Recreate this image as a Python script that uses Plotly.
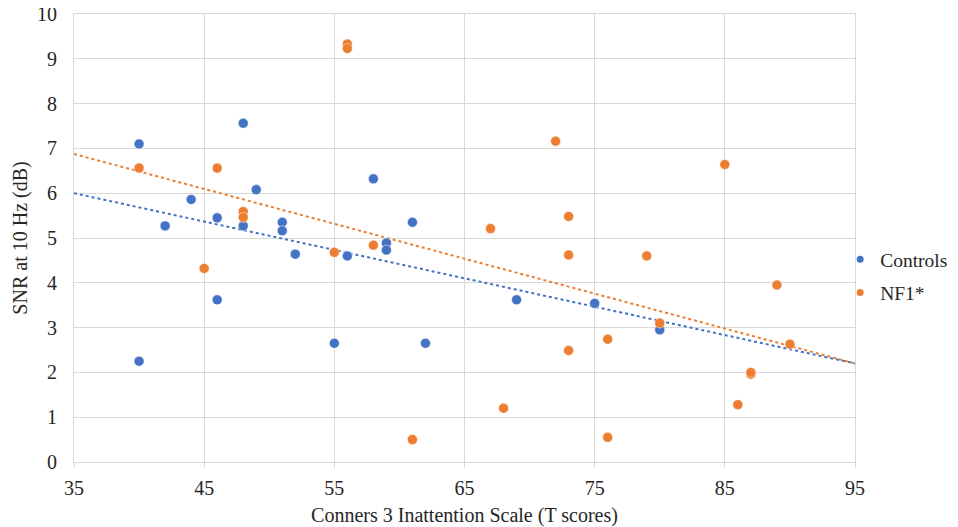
import plotly.graph_objects as go

# Controls
ctrl_x = [40, 48, 44, 42, 46, 48, 49, 51, 51, 52, 56, 58, 59, 59, 61, 40, 46, 55, 62, 69, 75, 80]
ctrl_y = [7.10, 7.56, 5.86, 5.27, 5.45, 5.27, 6.08, 5.35, 5.16, 4.64, 4.60, 6.32, 4.89, 4.73, 5.35,
          2.25, 3.62, 2.65, 2.65, 3.62, 3.54, 2.95]
# NF1
nf1_x = [56, 56, 40, 46, 48, 48, 55, 58, 45, 61, 72, 85, 73, 67, 73, 79, 89, 80, 90, 76, 73, 87, 87, 86, 68, 76]
nf1_y = [9.33, 9.23, 6.56, 6.56, 5.59, 5.46, 4.68, 4.84, 4.32, 0.50, 7.16, 6.64, 5.48, 5.21, 4.62, 4.60,
         3.95, 3.10, 2.63, 2.74, 2.49, 1.96, 2.00, 1.28, 1.20, 0.55]

# Linear trendlines at the ends of the x range
trend_x = [35, 95]
ctrl_trend_y = [6.00, 2.20]
nf1_trend_y = [6.875, 2.20]

x_ticks = [35, 45, 55, 65, 75, 85, 95]
y_ticks = list(range(0, 11))

BLUE = "#4472C4"
ORANGE = "#ED7D31"
FONT = "Liberation Serif, Times New Roman, serif"
TXT = "#262626"
GRID = "#d9d9d9"

fig = go.Figure()

fig.add_trace(go.Scatter(x=trend_x, y=ctrl_trend_y, mode="lines", showlegend=False, hoverinfo="skip",
                         line=dict(color=BLUE, width=2, dash="dot")))
fig.add_trace(go.Scatter(x=trend_x, y=nf1_trend_y, mode="lines", showlegend=False, hoverinfo="skip",
                         line=dict(color=ORANGE, width=2, dash="dot")))

fig.add_trace(go.Scatter(x=ctrl_x, y=ctrl_y, mode="markers", name="Controls", showlegend=False,
                         marker=dict(color=BLUE, size=10, line=dict(color="white", width=0.5))))
fig.add_trace(go.Scatter(x=nf1_x, y=nf1_y, mode="markers", name="NF1*", showlegend=False,
                         marker=dict(color=ORANGE, size=10, line=dict(color="white", width=0.5))))

# legend entries (smaller markers, as in the reference legend)
fig.add_trace(go.Scatter(x=[None], y=[None], mode="markers", name="Controls", legendgroup="a",
                         marker=dict(color=BLUE, size=7)))
fig.add_trace(go.Scatter(x=[None], y=[None], mode="markers", name="NF1*", legendgroup="b",
                         marker=dict(color=ORANGE, size=7)))

# The page body adds an 8px offset; size the figure so it ends at the window edge.
fig.update_layout(
    width=950, height=519,
    margin=dict(l=66, r=103, t=6, b=65, autoexpand=False),
    paper_bgcolor="white", plot_bgcolor="white",
    font=dict(family=FONT, size=20, color=TXT),
    showlegend=True,
    legend=dict(x=0.981, y=0.415, xanchor="left", yanchor="middle", bgcolor="rgba(0,0,0,0)",
                font=dict(family=FONT, size=19.5, color=TXT),
                tracegroupgap=5, itemwidth=30),
    xaxis=dict(range=[35, 95], tickvals=x_ticks, showgrid=True, gridcolor=GRID, gridwidth=1,
               zeroline=False, showline=True, linecolor=GRID, mirror=True,
               ticks="outside", ticklen=5, tickcolor=GRID, ticklabelstandoff=3,
               ticklabeloverflow="allow",
               title=dict(text="Conners 3 Inattention Scale (T scores)", standoff=13,
                          font=dict(family=FONT, size=20, color=TXT)),
               tickfont=dict(family=FONT, size=20, color=TXT)),
    yaxis=dict(range=[0, 10], tickvals=y_ticks, showgrid=True, gridcolor=GRID, gridwidth=1,
               zeroline=False, showline=True, linecolor=GRID, mirror=True,
               ticks="", ticklabelstandoff=12, ticklabeloverflow="allow",
               title=dict(text="SNR at 10 Hz (dB)", standoff=4,
                          font=dict(family=FONT, size=20, color=TXT)),
               tickfont=dict(family=FONT, size=20, color=TXT)),
)

fig.write_html("out.html")
